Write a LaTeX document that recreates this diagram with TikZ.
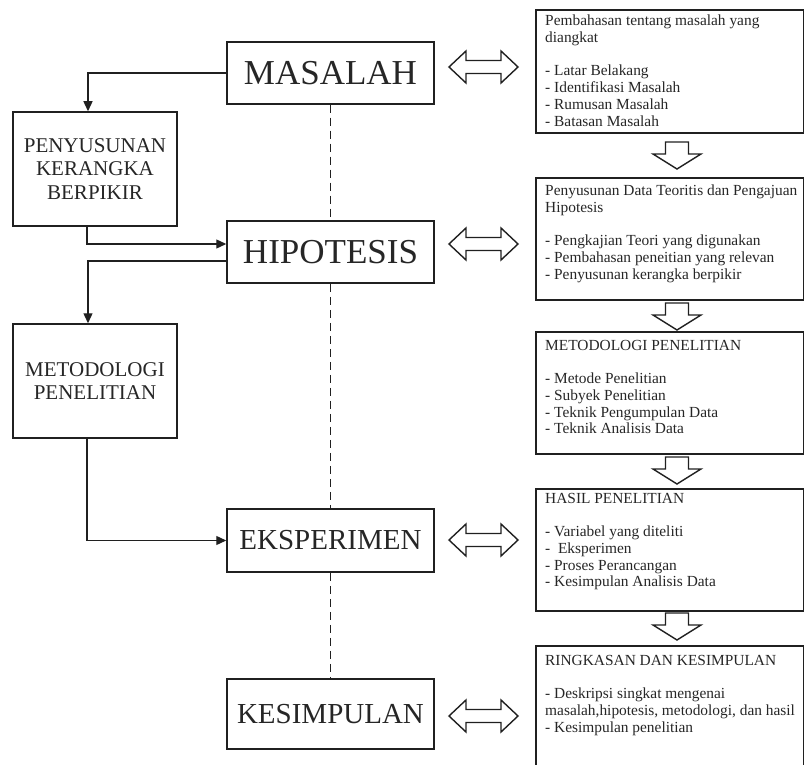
\documentclass[tikz,border=0pt]{standalone}
\usepackage{fontspec}
\setmainfont{Liberation Serif}
\usepackage{tikz}
\usetikzlibrary{arrows.meta,calc,positioning}
\definecolor{ink}{HTML}{202020}
\definecolor{txt}{HTML}{262626}
\tikzset{stage/.style={draw=ink,line width=1.5pt,text=txt,inner sep=0pt,minimum width=207pt},side/.style={draw=ink,line width=1.5pt,text=txt,inner sep=0pt,minimum width=164pt,minimum height=114pt,align=center,font=\fontsize{21}{23.5}\selectfont},rbox/.style={draw=ink,line width=1.6pt,anchor=north west,minimum width=268pt,inner sep=0pt},rtext/.style={anchor=north west,inner sep=0pt,align=left,text=txt,font=\fontsize{15.4}{16.7}\selectfont},conn/.style={-{Triangle[length=10pt,width=9pt]},draw=ink,line width=1.3pt},link/.style={draw=ink,line width=1.4pt,dash pattern=on 8pt off 5pt},dblarrow/.pic={\draw[ink,line width=1.4pt,line join=miter] (-34.5,0)--(-17.5,-16)--(-17.5,-6.5)--(17.5,-6.5)--(17.5,-16)--(34.5,0)--(17.5,16)--(17.5,6.5)--(-17.5,6.5)--(-17.5,16)--cycle;},downarrow/.pic={\draw[ink,line width=1.4pt,line join=miter] (-11.5,0)--(11.5,0)--(11.5,12)--(24,12)--(0,27)--(-24,12)--(-11.5,12)--cycle;}}
\begin{document}
\begin{tikzpicture}[x=1pt,y=-1pt]
\useasboundingbox (0,0) rectangle (804,765);\clip (0,0) rectangle (804,765);
% stages in the middle
\node[stage,minimum height=62pt,font=\fontsize{35}{40}\selectfont] (mas) at (330.5,73) {MASALAH};
\node[stage,minimum height=62pt,font=\fontsize{35}{40}\selectfont] (hip) at (330.5,252) {HIPOTESIS};
\node[stage,minimum height=63pt,font=\fontsize{29}{34}\selectfont] (eks) at (330.5,540.5) {EKSPERIMEN};
\node[stage,minimum height=70pt,font=\fontsize{29}{34}\selectfont] (kes) at (330.5,714) {KESIMPULAN};
\node[side] (pen) at (95,169) {PENYUSUNAN\\KERANGKA\\BERPIKIR};
\node[side] (met) at (95,381) {METODOLOGI\\PENELITIAN};
\draw[conn] (mas.west) -| ([xshift=-7pt]pen.north);\draw[conn] ([xshift=-8pt]pen.south) |- ([yshift=8pt]hip.west);
\draw[conn] ([yshift=-9pt]hip.west) -| ([xshift=-7pt]met.north);\draw[conn] ([xshift=-8pt]met.south) |- (eks.west);
\draw[link] (mas.south)--(hip.north);\draw[link] (hip.south)--(eks.north);\draw[link] (eks.south)--(kes.north);
% boxes on the right
\node[rbox,minimum height=123pt] (r1) at (535,9) {};\node[rbox,minimum height=122pt] (r2) at (535,177) {};
\node[rbox,minimum height=122pt] (r3) at (535,331) {};\node[rbox,minimum height=122pt] (r4) at (535,488) {};
\node[rbox,minimum height=150pt] (r5) at (535,645) {};
\node[rtext] (t1) at (545,15) {Pembahasan tentang masalah yang\\diangkat\\[16.7pt]- Latar Belakang\\- Identifikasi Masalah\\- Rumusan Masalah\\- Batasan Masalah};
\node[rtext] (t2) at (545,185) {Penyusunan Data Teoritis dan Pengajuan\\Hipotesis\\[16.7pt]- Pengkajian Teori yang digunakan\\- Pembahasan peneitian yang relevan\\- Penyusunan kerangka berpikir};
\node[rtext] (t3) at (545,340) {METODOLOGI PENELITIAN\\[16.7pt]- Metode Penelitian\\- Subyek Penelitian\\- Teknik Pengumpulan Data\\- Teknik Analisis Data};
\node[rtext] (t4) at (545,493) {HASIL PENELITIAN\\[16.7pt]- Variabel yang diteliti\\-~ Eksperimen\\- Proses Perancangan\\- Kesimpulan Analisis Data};
\node[rtext] (t5) at (545,655) {RINGKASAN DAN KESIMPULAN\\[16.7pt]- Deskripsi singkat mengenai\\masalah,hipotesis, metodologi, dan hasil\\- Kesimpulan penelitian};
\foreach \y in {67,244,540,716}{\pic at (483.5,\y) {dblarrow};}
\foreach \y in {142,303,457,613}{\pic at (677,\y) {downarrow};}
\end{tikzpicture}
\end{document}
